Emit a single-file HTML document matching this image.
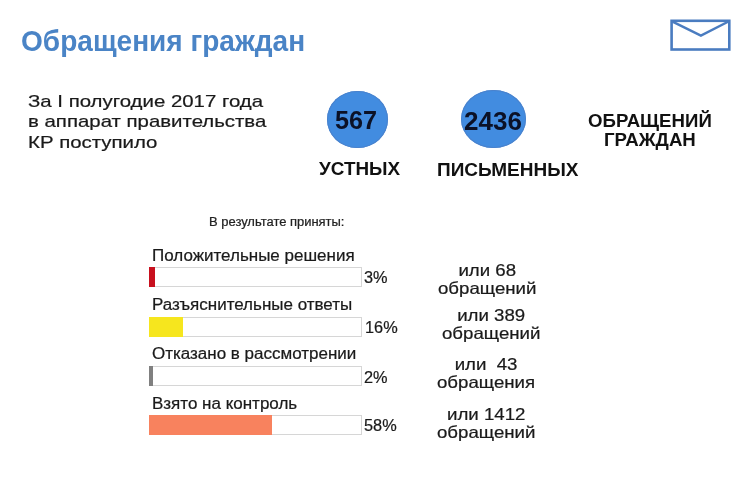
<!DOCTYPE html>
<html lang="ru">
<head>
<meta charset="utf-8">
<title>Обращения граждан</title>
<style>
html, body { margin: 0; padding: 0; background: #fff; }
body { width: 750px; height: 500px; position: relative; overflow: hidden;
  font-family: "Liberation Sans", Arial, "Noto Sans CJK SC", sans-serif; }
.t { position: absolute; white-space: nowrap; transform-origin: 0 0; }
.intro, .lbl, .pct, .cnt, .small { -webkit-text-stroke: 0.22px currentColor; }
.title { left: 20.5px; top: 24.3px; font-size: 30px; line-height: 34px; font-weight: bold; color: #4a84c6; transform: scaleX(0.935); }
.intro { left: 28px; font-size: 17px; line-height: 20px; color: #1a1a1a; transform: scaleX(1.2); }
.circle { position: absolute; border-radius: 50%; background: #428ce0; box-shadow: inset 0 0 0 1px #4a82cc; }
.num { font-size: 26px; line-height: 30px; font-weight: bold; color: #0b1126; }
.cap { font-size: 18.5px; line-height: 20px; font-weight: bold; color: #111; }
.small { left: 209px; top: 213.8px; font-size: 12px; line-height: 16px; color: #222; transform: scaleX(1.08); }
.lbl { font-size: 16px; line-height: 18px; color: #1a1a1a; transform: scaleX(1.062); }
.bar { position: absolute; left: 149px; width: 211px; height: 18px; border: 1px solid #d6d6d6; background: #fff; }
.fill { position: absolute; left: -1px; top: -1px; bottom: -1px; }
.pct { font-size: 17px; line-height: 18px; color: #1a1a1a; transform: scaleX(0.96); }
.cnt { font-size: 16.5px; line-height: 18px; color: #1a1a1a; text-align: center; transform: scaleX(1.13); }
</style>
</head>
<body>
<div class="t title">Обращения граждан</div>

<svg style="position:absolute;left:0;top:0" width="750" height="500" viewBox="0 0 750 500">
  <rect x="671.6" y="20.8" width="57.7" height="28.7" fill="none" stroke="#4a7cc0" stroke-width="2.6"/>
  <polyline points="672,21.3 700.9,35.6 729,21.3" fill="none" stroke="#4a7cc0" stroke-width="2.4" stroke-linejoin="miter"/>
</svg>

<div class="t intro" style="top:92px">За I полугодие 2017 года</div>
<div class="t intro" style="top:112px">в аппарат правительства</div>
<div class="t intro" style="top:133px">КР поступило</div>

<div class="circle" style="left:327px;top:91.1px;width:60.6px;height:57.4px"></div>
<div class="circle" style="left:460.7px;top:89.9px;width:64.9px;height:58.5px"></div>
<div class="t num" style="left:335px;top:104.5px;transform:scaleX(0.97)">567</div>
<div class="t num" style="left:464px;top:106px">2436</div>

<div class="t cap" style="left:318.7px;top:159px;transform:scaleX(1.02)">УСТНЫХ</div>
<div class="t cap" style="left:436.5px;top:159.5px;transform:scaleX(1.027)">ПИСЬМЕННЫХ</div>
<div class="t cap" style="left:587.5px;top:111.5px;font-size:18px;line-height:19px;text-align:center;transform:scaleX(1.035)">ОБРАЩЕНИЙ<br>ГРАЖДАН</div>

<div class="t small">В результате приняты:</div>

<div class="t lbl" style="left:152px;top:247.2px">Положительные решения</div>
<div class="bar" style="top:267px"><div class="fill" style="width:6px;background:#c8101e"></div></div>
<div class="t pct" style="left:364px;top:269px">3%</div>

<div class="t lbl" style="left:152.3px;top:296.2px">Разъяснительные ответы</div>
<div class="bar" style="top:317px"><div class="fill" style="width:33.5px;background:#f6e61e"></div></div>
<div class="t pct" style="left:365px;top:318.5px">16%</div>

<div class="t lbl" style="left:151.8px;top:345.3px">Отказано в рассмотрении</div>
<div class="bar" style="top:366px"><div class="fill" style="width:4px;background:#808080"></div></div>
<div class="t pct" style="left:364px;top:368.5px">2%</div>

<div class="t lbl" style="left:152px;top:395px">Взято на контроль</div>
<div class="bar" style="top:415px"><div class="fill" style="width:123px;background:#f8825e"></div></div>
<div class="t pct" style="left:364px;top:417px">58%</div>

<div class="t cnt" style="left:437.5px;top:261px">или 68<br>обращений</div>
<div class="t cnt" style="left:442.3px;top:306px">или 389<br>обращений</div>
<div class="t cnt" style="left:437px;top:355px">или&nbsp; 43<br>обращения</div>
<div class="t cnt" style="left:437.3px;top:405px">или 1412<br>обращений</div>
</body>
</html>
